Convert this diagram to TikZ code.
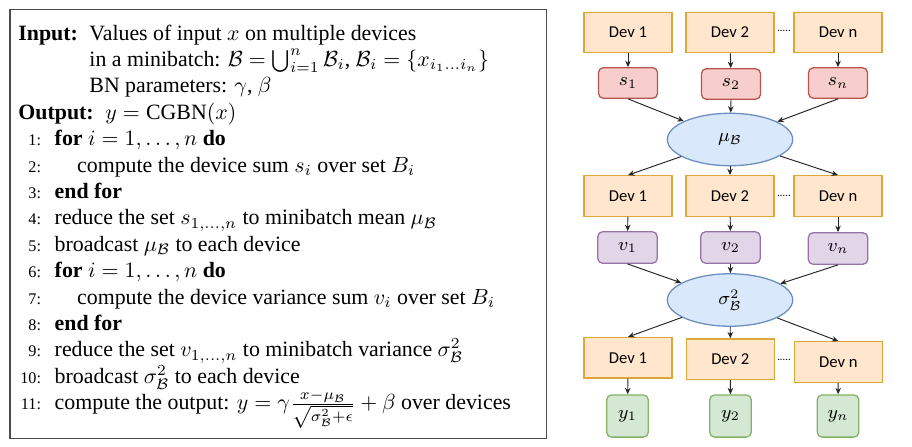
\RequirePackage{fix-cm}
\documentclass[tikz,border=0pt]{standalone}
\usepackage{amsmath}
\usepackage{amsfonts}
\usepackage{fontspec}
\setmainfont{Liberation Serif}
\newfontfamily\devfont{Carlito}
\usetikzlibrary{shapes.geometric, arrows.meta}
\definecolor{devfill}{HTML}{FFE6CC}
\definecolor{devline}{HTML}{DDA83A}
\definecolor{sfill}{HTML}{F8CECC}
\definecolor{sline}{HTML}{B85450}
\definecolor{mufill}{HTML}{DAE8FC}
\definecolor{muline}{HTML}{6C8EBF}
\definecolor{vfill}{HTML}{E1D5E7}
\definecolor{vline}{HTML}{9673A6}
\definecolor{yfill}{HTML}{D5E8D4}
\definecolor{yline}{HTML}{82B366}
\newcommand\cB{\mathcal{B}}

\begin{document}
\begin{tikzpicture}[x=0.469pt, y=-0.469pt, >={Stealth[length=3pt,width=2.6pt]},
  algbox/.style={draw=black!70, line width=0.5pt, minimum width=251.4pt, minimum height=201pt, inner sep=0pt},
  algtext/.style={anchor=base west, inner sep=0pt, font=\fontsize{10.25}{12}\selectfont},
  algnum/.style={anchor=base east, inner sep=0pt, font=\fontsize{7.6}{9}\selectfont},
  dev/.style={draw=devline, fill=devfill, line width=0.6pt, minimum width=41.3pt, minimum height=19pt, inner sep=0pt, font=\devfont\fontsize{7.8}{9}\selectfont},
  val/.style={rounded corners=2.3pt, line width=0.6pt, inner sep=0pt, font=\fontsize{8.7}{10}\selectfont},
  sbox/.style={val, draw=sline, fill=sfill, minimum width=27.7pt, minimum height=14.3pt},
  vbox/.style={val, draw=vline, fill=vfill, minimum width=27.9pt, minimum height=14.8pt},
  ybox/.style={val, draw=yline, fill=yfill, minimum width=19.5pt, minimum height=19.8pt},
  red/.style={ellipse, draw=muline, fill=mufill, line width=0.6pt, minimum width=58.8pt, minimum height=24.6pt, inner sep=0pt, font=\fontsize{8.7}{10}\selectfont},
  dotsep/.style={inner sep=0pt, font=\devfont\fontsize{5}{5}\selectfont},
  link/.style={->, line width=0.45pt, black!85}]
\useasboundingbox (0,0) rectangle (912,446);

% algorithm
\node[algbox] (algo) at (278,223.8) {};
\node[algtext] (inlbl) at (18,40) {\textbf{Input:}};
\node[algtext] (in1) at (89,40) {Values of input $x$ on multiple devices};
\node[algtext] (in2) at (89,66.4) {in a minibatch: $\cB=\bigcup_{i=1}^{n}\cB_i$, $\cB_i=\{x_{i_1\ldots i_n}\}$};
\node[algtext] (in3) at (89,92.8) {BN parameters: $\gamma$, $\beta$};
\node[algtext] (outlbl) at (18,119.2) {\textbf{Output:}};
\node[algtext] (out1) at (105,119.2) {$y=\mathrm{CGBN}(x)$};
\node[algnum] (n1) at (41.5,145.6) {1:};
\node[algtext] (l1) at (54.3,145.6) {\textbf{for} $i=1,\ldots,n$ \textbf{do}};
\node[algnum] (n2) at (41.5,172) {2:};
\node[algtext] (l2) at (76.7,172) {compute the device sum $s_i$ over set $B_i$};
\node[algnum] (n3) at (41.5,198.4) {3:};
\node[algtext] (l3) at (54.3,198.4) {\textbf{end for}};
\node[algnum] (n4) at (41.5,224.8) {4:};
\node[algtext] (l4) at (54.3,224.8) {reduce the set $s_{1,\ldots,n}$ to minibatch mean $\mu_{\cB}$};
\node[algnum] (n5) at (41.5,251.2) {5:};
\node[algtext] (l5) at (54.3,251.2) {broadcast $\mu_{\cB}$ to each device};
\node[algnum] (n6) at (41.5,277.6) {6:};
\node[algtext] (l6) at (54.3,277.6) {\textbf{for} $i=1,\ldots,n$ \textbf{do}};
\node[algnum] (n7) at (41.5,304) {7:};
\node[algtext] (l7) at (76.7,304) {compute the device variance sum $v_i$ over set $B_i$};
\node[algnum] (n8) at (41.5,330.4) {8:};
\node[algtext] (l8) at (54.3,330.4) {\textbf{end for}};
\node[algnum] (n9) at (41.5,356.8) {9:};
\node[algtext] (l9) at (54.3,356.8) {reduce the set $v_{1,\ldots,n}$ to minibatch variance $\sigma_{\cB}^2$};
\node[algnum] (n10) at (41.5,383.2) {10:};
\node[algtext] (l10) at (54.3,383.2) {broadcast $\sigma_{\cB}^2$ to each device};
\node[algnum] (n11) at (41.5,409.6) {11:};
\node[algtext] (l11) at (54.3,409.6) {compute the output: $y=\gamma\frac{x-\mu_{\cB}}{\sqrt{\sigma_{\cB}^2+\epsilon}}+\beta$ over devices};

% devices and reductions
\node[dev] (d11) at (628,32.5) {Dev 1};
\node[dev] (d12) at (730,32.5) {Dev 2};
\node[dev] (d1n) at (838,32.5) {Dev n};
\node[dotsep] (dots1) at (784,31) {.....};
\node[sbox] (s1) at (628,83) {$s_1$};
\node[sbox] (s2) at (731,84) {$s_2$};
\node[sbox] (sn) at (838,83) {$s_n$};
\node[red] (mu) at (730,139.5) {$\mu_{\cB}$};
\node[dev] (d21) at (628,196) {Dev 1};
\node[dev] (d22) at (730,196) {Dev 2};
\node[dev] (d2n) at (838,196) {Dev n};
\node[dotsep] (dots2) at (784,195.5) {.....};
\node[vbox] (v1) at (627.5,247.5) {$v_1$};
\node[vbox] (v2) at (730.5,247.5) {$v_2$};
\node[vbox] (vn) at (838,248.5) {$v_n$};
\node[red] (sig) at (730,300) {$\sigma_{\cB}^2$};
\node[dev] (d31) at (628,357.8) {Dev 1};
\node[dev] (d32) at (730.3,359.2) {Dev 2};
\node[dev] (d3n) at (838.3,362) {Dev n};
\node[dotsep] (dots3) at (784,360) {.....};
\node[ybox] (y1) at (627.5,416) {$y_1$};
\node[ybox] (y2) at (730.5,416) {$y_2$};
\node[ybox] (yn) at (838,416) {$y_n$};

\draw[link] (d11) -- (s1);
\draw[link] (d12) -- (s2);
\draw[link] (d1n) -- (sn);
\draw[link] (s1.south) -- (mu);
\draw[link] (s2.south) -- (mu);
\draw[link] (sn.south) -- (mu);
\draw[link] (mu) -- (d21.north);
\draw[link] (mu) -- (d22.north);
\draw[link] (mu) -- (d2n.north);
\draw[link] (d21) -- (v1);
\draw[link] (d22) -- (v2);
\draw[link] (d2n) -- (vn);
\draw[link] (v1.south) -- (sig);
\draw[link] (v2.south) -- (sig);
\draw[link] (vn.south) -- (sig);
\draw[link] (sig) -- (d31.north);
\draw[link] (sig) -- (d32.north);
\draw[link] (sig) -- (d3n.north);
\draw[link] (d31) -- (y1);
\draw[link] (d32) -- (y2);
\draw[link] (d3n) -- (yn);
\end{tikzpicture}
\end{document}
